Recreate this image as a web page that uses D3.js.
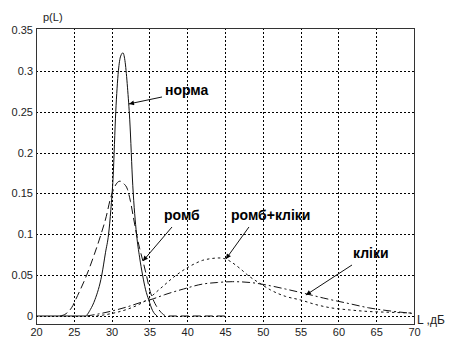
<!DOCTYPE html>
<html lang="uk">
<head>
<meta charset="UTF-8">
<title>p(L)</title>
<script src="https://d3js.org/d3.v7.min.js"></script>
<style>
    body { margin: 0; background: #fff; }
    svg { display: block; }
    .tick text { font-family: "Liberation Sans", Arial, sans-serif; font-size: 11px; fill: #222; }
    .grid line { stroke: #000; stroke-dasharray: 2,2; shape-rendering: crispEdges; }
    .curve { fill: none; stroke: #111; stroke-width: 1; }
    .note { font-family: "Liberation Sans", Arial, sans-serif; font-size: 14px; font-weight: bold; fill: #000; }
</style>
</head>
<body>
<svg id="chart" width="451" height="338"></svg>
<script>
    // tick values / labels
    const xTicks = [20, 25, 30, 35, 40, 45, 50, 55, 60, 65, 70];
    const yTicks = [0, 0.05, 0.1, 0.15, 0.2, 0.25, 0.3, 0.35];
    const yTickLabels = ["0", "0.05", "0.1", "0.15", "0.2", "0.25", "0.3", "0.35"];

    // норма (solid)
    const normaL = [20, 26.5, 27.2, 27.8, 28.7, 29.2, 29.6, 29.9, 30.2, 30.55, 30.9, 31.2, 31.5, 31.8, 32.1, 32.4, 32.8, 33.3, 33.7, 34.1, 34.5, 34.9, 35.4, 36];
    const normaP = [0, 0, 0.008, 0.02, 0.05, 0.078, 0.1, 0.13, 0.17, 0.25, 0.3, 0.318, 0.322, 0.31, 0.28, 0.24, 0.16, 0.1, 0.072, 0.05, 0.032, 0.02, 0.007, 0];

    // ромб (dashed)
    const rombL = [23.2, 24, 24.7, 25.5, 26.7, 27.7, 28.6, 29.3, 29.8, 30.4, 31.1, 31.6, 32.1, 32.5, 32.9, 33.3, 33.7, 34.15, 34.6, 35.1, 35.5, 36.4, 37.3, 45];
    const rombP = [0, 0.003, 0.01, 0.025, 0.05, 0.075, 0.1, 0.122, 0.142, 0.158, 0.165, 0.162, 0.155, 0.14, 0.12, 0.1, 0.083, 0.067, 0.05, 0.03, 0.02, 0.006, 0, 0];

    // ромб+кліки (dotted)
    const rombKlikL = [28, 30, 32, 34, 35, 36, 37, 38, 39, 40, 41, 42, 43, 44.2, 45, 46, 47, 48, 49.6, 51, 53, 55, 57, 59, 61.5, 64, 67, 70];
    const rombKlikP = [0, 0.003, 0.008, 0.016, 0.022, 0.03, 0.038, 0.046, 0.053, 0.059, 0.064, 0.068, 0.07, 0.071, 0.07, 0.065, 0.058, 0.05, 0.04, 0.032, 0.024, 0.0196, 0.014, 0.01, 0.0074, 0.0055, 0.0045, 0.0035];

    // кліки (dash-dot)
    const klikL = [26.7, 28, 30, 32, 34, 35.5, 37, 39.5, 42, 44, 46, 48.3, 51, 53, 55.8, 58, 61.5, 64, 67, 70];
    const klikP = [0, 0.002, 0.006, 0.011, 0.017, 0.021, 0.026, 0.033, 0.039, 0.041, 0.042, 0.041, 0.037, 0.033, 0.027, 0.022, 0.015, 0.01, 0.006, 0.003];

    // annotation labels: text, text pos, arrow tail, arrow tip (data units)
    const noteText = ["норма", "ромб", "ромб+кліки", "кліки"];
    const noteTextL = [37.06, 36.93, 45.79, 61.93];
    const noteTextP = [0.2705, 0.1175, 0.1175, 0.071];
    const noteTailL = [36.67, 37.99, 48.17, 61.8];
    const noteTailP = [0.268, 0.1089, 0.1089, 0.0624];
    const noteTipL = [32.3, 34.15, 45.13, 55.71];
    const noteTipP = [0.2595, 0.0673, 0.0698, 0.0257];

    const margin = { top: 28, right: 37, bottom: 14, left: 36 },
        width = 451 - margin.left - margin.right,
        height = 338 - margin.top - margin.bottom;

    const svg = d3.select("#chart");
    const g = svg.append("g").attr("transform", `translate(${margin.left},${margin.top})`);

    const x = d3.scaleLinear().domain([20, 70]).range([0, width]);
    const y = d3.scaleLinear().domain([-0.0098, 0.3524]).range([height, 0]);

    g.append("clipPath").attr("id", "clip")
        .append("rect").attr("width", width).attr("height", height);

    // grid
    const grid = g.append("g").attr("class", "grid");
    grid.selectAll(".gx").data(xTicks.slice(1, -1)).enter().append("line")
        .attr("x1", d => Math.round(x(d)) + 0.5).attr("x2", d => Math.round(x(d)) + 0.5)
        .attr("y1", 0).attr("y2", height);
    grid.selectAll(".gy").data(yTicks.slice(0, -1)).enter().append("line")
        .attr("x1", 0).attr("x2", width)
        .attr("y1", d => Math.round(y(d)) + 0.5).attr("y2", d => Math.round(y(d)) + 0.5);

    // axes
    g.append("g")
        .attr("transform", `translate(0,${height})`)
        .call(d3.axisBottom(x).tickValues(xTicks).tickFormat(d3.format("d")).tickSize(0).tickPadding(4))
        .call(a => a.select(".domain").remove());

    g.append("g")
        .call(d3.axisLeft(y).tickValues(yTicks).tickFormat((d, i) => yTickLabels[i]).tickSize(0).tickPadding(3))
        .call(a => a.select(".domain").remove());

    g.append("rect")
        .attr("x", 0.5).attr("y", 0.5)
        .attr("width", width).attr("height", height)
        .attr("fill", "none").attr("stroke", "#333");

    // curves
    const line = d3.line()
        .x(d => x(d[0]))
        .y(d => y(d[1]))
        .curve(d3.curveMonotoneX);

    const series = [
        { L: normaL, P: normaP, dash: null },
        { L: rombL, P: rombP, dash: "8,4" },
        { L: rombKlikL, P: rombKlikP, dash: "2.5,3" },
        { L: klikL, P: klikP, dash: "8,3,2,3" }
    ];

    g.append("g").attr("clip-path", "url(#clip)")
        .selectAll("path")
        .data(series)
        .enter().append("path")
        .attr("class", "curve")
        .attr("stroke-dasharray", d => d.dash)
        .attr("d", d => line(d.L.map((v, i) => [v, d.P[i]])));

    // arrow heads
    svg.append("defs").append("marker")
        .attr("id", "arrow")
        .attr("viewBox", "0 0 10 10")
        .attr("refX", 10).attr("refY", 5)
        .attr("markerWidth", 7).attr("markerHeight", 5)
        .attr("markerUnits", "userSpaceOnUse")
        .attr("orient", "auto")
        .append("path").attr("d", "M0,0L10,5L0,10Z").attr("fill", "#000");

    const notes = g.append("g");
    noteText.forEach((t, i) => {
        notes.append("line")
            .attr("x1", x(noteTailL[i])).attr("y1", y(noteTailP[i]))
            .attr("x2", x(noteTipL[i])).attr("y2", y(noteTipP[i]))
            .attr("stroke", "#111").attr("stroke-width", 1)
            .attr("marker-end", "url(#arrow)");
        notes.append("text")
            .attr("class", "note")
            .attr("x", x(noteTextL[i])).attr("y", y(noteTextP[i]))
            .text(t);
    });

    // axis titles
    svg.append("text")
        .attr("x", 43).attr("y", 21)
        .attr("font-family", "Liberation Sans, Arial, sans-serif")
        .attr("font-size", 11).attr("fill", "#222")
        .text("p(L)");

    svg.append("text")
        .attr("x", margin.left + width + 3).attr("y", margin.top + height)
        .attr("font-family", "Liberation Sans, Arial, sans-serif")
        .attr("font-size", 12).attr("fill", "#222")
        .text("L ,дБ");
</script>
</body>
</html>
